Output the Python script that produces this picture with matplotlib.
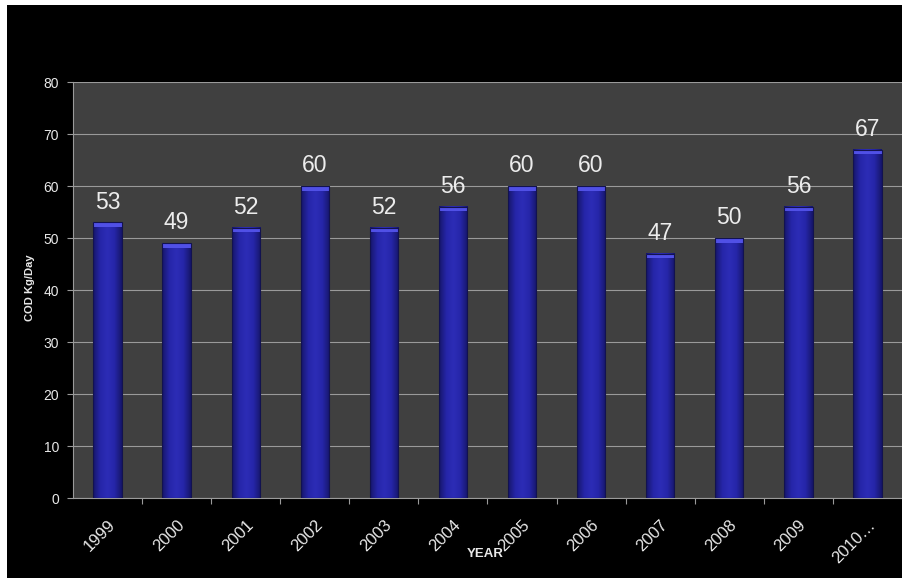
import numpy as np
import matplotlib
matplotlib.use("Agg")
import matplotlib.pyplot as plt
from matplotlib.patches import Rectangle
from matplotlib.colors import LinearSegmentedColormap

years = ['1999', '2000', '2001', '2002', '2003', '2004', '2005', '2006',
         '2007', '2008', '2009', '2010…']
cod = [53, 49, 52, 60, 52, 56, 60, 60, 47, 50, 56, 67]

rc = plt.rcParams
rc['font.family'] = ['Liberation Sans', 'DejaVu Sans']

fig = plt.figure(figsize=(9.03, 5.78), dpi=100, facecolor='white')
# black slide background, white strip on left and top as in the screenshot
fig.patches.append(Rectangle((7 / 903, 0), 1, 1 - 5 / 578, transform=fig.transFigure,
                             facecolor='black', edgecolor='none', zorder=-10))

ax = fig.add_axes([73 / 903, 1 - 498 / 578, 829 / 903, 416 / 578])
ax.set_facecolor('#404040')

x = np.arange(len(years))
w = 0.41
bar_cmap = LinearSegmentedColormap.from_list(
    'bar', ['#16166a', '#2626a8', '#2c2cb6', '#2626a8', '#16166a'])
grad = np.linspace(0, 1, 64).reshape(1, -1)

for xi, v in zip(x, cod):
    ax.imshow(grad, cmap=bar_cmap, aspect='auto', zorder=3,
              extent=(xi - w / 2, xi + w / 2, 0, v))
    # lighter bevel on top of each bar
    ax.bar(xi, 0.9, bottom=v - 0.9, width=w, color='#5050e6', zorder=4, linewidth=0)
    ax.bar(xi, v, width=w, facecolor='none', edgecolor='#121250', linewidth=0.8, zorder=5)
    ax.text(xi, v + 1.7, str(v), ha='center', va='bottom', color='#ececec',
            fontsize=16.5, zorder=6)

ax.set_xlim(-0.5, len(years) - 0.5)
ax.set_ylim(0, 80)
ax.set_yticks(range(0, 81, 10))
ax.yaxis.grid(True, color='#9a9a9a', linewidth=0.8)
ax.set_axisbelow(True)

ax.set_xticks(x)
ax.set_xticklabels(years, rotation=45, ha='right', rotation_mode='anchor',
                   color='#e8e8e8', fontsize=12)
ax.tick_params(axis='x', which='major', length=0, pad=14)
ax.set_xticks(np.arange(0.5, len(years) - 0.5, 1), minor=True)
ax.tick_params(axis='x', which='minor', length=4, color='#9a9a9a', width=0.8)
ax.tick_params(axis='y', length=4, color='#9a9a9a', width=0.8,
               labelcolor='#e8e8e8', labelsize=10, pad=6)

for s in ['top', 'right']:
    ax.spines[s].set_visible(False)
for s in ['left', 'bottom']:
    ax.spines[s].set_color('#9a9a9a')
    ax.spines[s].set_linewidth(0.8)

fig.text(30 / 903, 1 - 288 / 578, 'COD Kg/Day', rotation=90, ha='center', va='center',
         color='#e8e8e8', fontsize=8, fontweight='bold')
fig.text(485 / 903, 1 - 554 / 578, 'YEAR', ha='center', va='center',
         color='#e8e8e8', fontsize=9.5, fontweight='bold')

fig.savefig('out.png', dpi=100, facecolor=fig.get_facecolor())
